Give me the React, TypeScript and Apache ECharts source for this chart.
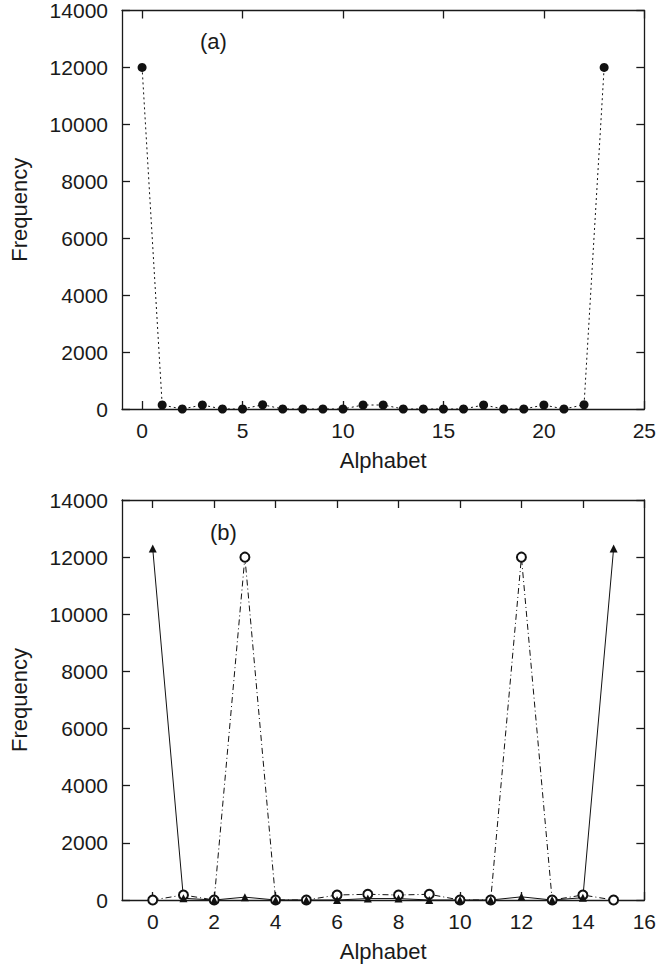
import React, { useEffect, useRef } from "react";
import * as echarts from "echarts";

// ---- data ----
const alphabetA = [0, 1, 2, 3, 4, 5, 6, 7, 8, 9, 10, 11, 12, 13, 14, 15, 16, 17, 18, 19, 20, 21, 22, 23];
const freqA = [12000, 140, 0, 140, 0, 0, 150, 0, 0, 0, 0, 140, 140, 0, 0, 0, 0, 140, 0, 0, 140, 0, 150, 12000];

const alphabetB = [0, 1, 2, 3, 4, 5, 6, 7, 8, 9, 10, 11, 12, 13, 14, 15];
const freqTriangle = [12300, 60, 0, 100, 0, 0, 0, 50, 50, 0, 0, 0, 110, 0, 80, 12300];
const freqCircle = [0, 175, 0, 12000, 0, 0, 175, 200, 175, 200, 0, 0, 12000, 0, 175, 0];

const xTicksA = [0, 5, 10, 15, 20, 25];
const xTicksB = [0, 2, 4, 6, 8, 10, 12, 14, 16];

const FONT = "Liberation Sans";
const INK = "#1a1a1a";
const LABEL_SIZE = 21;
const NAME_SIZE = 22;

function xAxisDef(gridIndex: number, min: number, max: number, ticks: number[], top: boolean) {
  return {
    type: "value",
    gridIndex,
    position: top ? "top" : "bottom",
    min,
    max,
    name: top ? "" : "Alphabet",
    nameLocation: "middle",
    nameGap: 40,
    nameTextStyle: { fontSize: NAME_SIZE, color: INK, fontFamily: FONT },
    axisLine: { show: true, onZero: false, lineStyle: { color: INK, width: 1.3 } },
    axisTick: { show: true, inside: true, length: 8, customValues: ticks, lineStyle: { color: INK, width: 1.3 } },
    axisLabel: {
      show: !top,
      customValues: ticks,
      margin: 11,
      fontSize: LABEL_SIZE,
      color: INK,
      fontFamily: FONT,
      formatter: (v: number) => String(v),
    },
    splitLine: { show: false },
  };
}

function yAxisDef(gridIndex: number, right: boolean) {
  return {
    type: "value",
    gridIndex,
    position: right ? "right" : "left",
    min: 0,
    max: 14000,
    interval: 2000,
    name: right ? "" : "Frequency",
    nameLocation: "middle",
    nameGap: 92,
    nameTextStyle: { fontSize: NAME_SIZE, color: INK, fontFamily: FONT },
    axisLine: { show: true, onZero: false, lineStyle: { color: INK, width: 1.3 } },
    axisTick: { show: true, inside: true, length: 8, lineStyle: { color: INK, width: 1.3 } },
    axisLabel: {
      show: !right,
      margin: 14,
      fontSize: LABEL_SIZE,
      color: INK,
      fontFamily: FONT,
      formatter: (v: number) => String(v),
    },
    splitLine: { show: false },
  };
}

export default function App() {
  const ref = useRef<HTMLDivElement>(null);

  useEffect(() => {
    if (!ref.current) return;
    const chart = echarts.init(ref.current, undefined, { renderer: "svg" });
    chart.setOption({
      animation: false,
      backgroundColor: "#ffffff",
      grid: [
        { left: 120, top: 9, width: 527, height: 400 },
        { left: 120, top: 500, width: 527, height: 400 },
      ],
      xAxis: [
        xAxisDef(0, -1, 25, xTicksA, false),
        xAxisDef(0, -1, 25, xTicksA, true),
        xAxisDef(1, -1, 16, xTicksB, false),
        xAxisDef(1, -1, 16, xTicksB, true),
      ],
      yAxis: [yAxisDef(0, false), yAxisDef(0, true), yAxisDef(1, false), yAxisDef(1, true)],
      graphic: [
        { type: "text", left: 200, top: 30, style: { text: "(a)", fontSize: NAME_SIZE, fill: INK, fontFamily: FONT } },
        { type: "text", left: 210, top: 521, style: { text: "(b)", fontSize: NAME_SIZE, fill: INK, fontFamily: FONT } },
      ],
      series: [
        {
          type: "line",
          xAxisIndex: 0,
          yAxisIndex: 0,
          data: alphabetA.map((a, i) => [a, freqA[i]]),
          symbol: "circle",
          symbolSize: 9,
          itemStyle: { color: "#111" },
          lineStyle: { color: "#111", width: 1, type: [2, 3] },
        },
        {
          type: "line",
          xAxisIndex: 2,
          yAxisIndex: 2,
          data: alphabetB.map((a, i) => [a, freqCircle[i]]),
          symbol: "emptyCircle",
          symbolSize: 9,
          itemStyle: { color: "#111", borderColor: "#111", borderWidth: 1 },
          lineStyle: { color: "#111", width: 1, type: [6, 3, 1, 3] },
        },
        {
          type: "line",
          xAxisIndex: 2,
          yAxisIndex: 2,
          data: alphabetB.map((a, i) => [a, freqTriangle[i]]),
          symbol: "triangle",
          symbolSize: 8,
          itemStyle: { color: "#111" },
          lineStyle: { color: "#111", width: 1 },
        },
      ],
    });
    return () => chart.dispose();
  }, []);

  return (
    <div
      ref={ref}
      style={{ position: "absolute", left: 0, top: 0, width: 659, height: 971 }}
    />
  );
}
